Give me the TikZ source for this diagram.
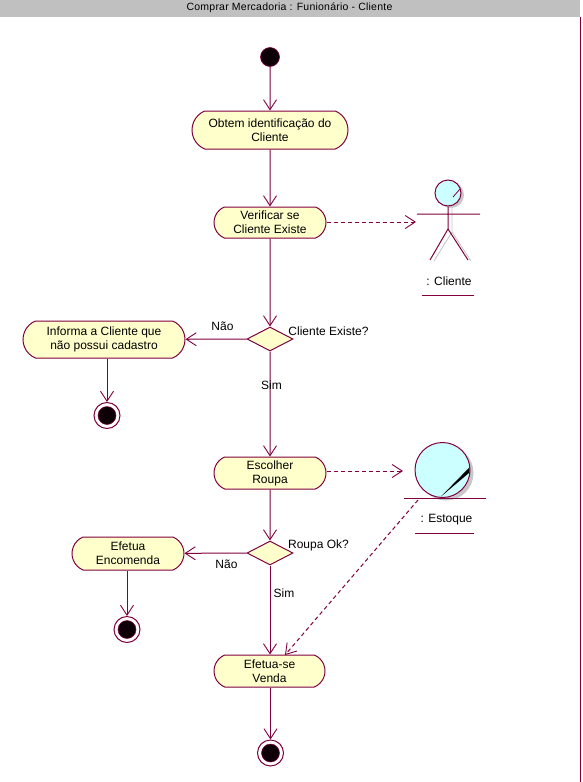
\documentclass[tikz,border=0pt]{standalone}
\usepackage{fontspec}
\setmainfont{Liberation Sans}
\newfontfamily\titlefont[LetterSpace=2.2]{Liberation Sans}
\usetikzlibrary{shapes.misc,shapes.geometric,arrows.meta,calc}
\definecolor{ink}{HTML}{800040}
\definecolor{actfill}{HTML}{FFFFCC}
\definecolor{cyanfill}{HTML}{CCFFFF}
\definecolor{bar}{HTML}{C0C0C0}
\definecolor{shadow}{HTML}{C8C8C8}
\tikzset{
  x=1pt,y=-1pt,
  every node/.style={font=\fontsize{12}{14.2}\selectfont,text=black},
  line/.style={draw=ink,line width=1pt},
  flow/.style={line,-{Straight Barb[length=10pt,width=13pt,line width=0.9pt]}},
  dep/.style={flow,dash pattern=on 4pt off 3pt},
  activity/.style={rounded rectangle,rounded rectangle arc length=135,draw=ink,line width=1pt,fill=actfill,align=center,inner sep=0pt},
  decision/.style={diamond,draw=ink,line width=1pt,fill=actfill,inner sep=0pt,minimum width=46pt,minimum height=24pt,aspect=1.9},
  startdot/.style={circle,draw=ink,fill=black!90!ink,inner sep=0pt,minimum size=19pt,line width=0.6pt},
  enddot/.style={circle,draw=ink,fill=white,inner sep=0pt,minimum size=26pt,line width=1pt},
  lbl/.style={inner sep=0pt},
}
\newcommand{\bullseye}[1]{\fill[black!90!ink,draw=ink,line width=0.5pt] (#1) circle (9pt);}
\begin{document}
\begin{tikzpicture}
\useasboundingbox (0,0) rectangle (583,782);
\fill[white] (0,0) rectangle (583,782);
\fill[bar] (0,0) rectangle (580,16.5);
\node[lbl,font=\fontsize{10.5}{12}\selectfont\titlefont] (title) at (289.5,8) {Comprar Mercadoria : Funionário - Cliente};
\draw[ink,line width=1.4pt] (580.5,17) coordinate (frameA) -- (580.5,782) coordinate (frameB);

% nodes
\node[startdot] (start) at (270,57) {};
\node[activity,minimum width=156pt,minimum height=38pt] (obtem) at (270,130) {Obtem identificação do\\Cliente};
\node[activity,minimum width=112pt,minimum height=31pt] (verificar) at (270,222.5) {Verificar se\\Cliente Existe};
\node[decision] (d1) at (270,339) {};
\node[activity,minimum width=162pt,minimum height=37pt] (informa) at (104,339.5) {Informa a Cliente que\\não possui cadastro};
\node[enddot] (end1) at (107,415.5) {};
\bullseye{end1}
\node[activity,minimum width=112pt,minimum height=32pt] (escolher) at (270,473) {Escolher\\Roupa};
\node[decision] (d2) at (270,553) {};
\node[activity,minimum width=112pt,minimum height=33pt] (encomenda) at (128,553.5) {Efetua\\Encomenda};
\node[enddot] (end2) at (127,629.5) {};
\bullseye{end2}
\node[activity,minimum width=111pt,minimum height=32pt] (venda) at (269.5,671) {Efetua-se\\Venda};
\node[enddot] (end3) at (270.5,753) {};
\bullseye{end3}

% actor
\fill[shadow] (451,195) circle (13pt);
\draw[shadow,line width=0.9pt] (452,206) -- (452,232) (452,232) -- (434,261) (452,232) -- (471,261);
\node[circle,draw=ink,fill=cyanfill,inner sep=0pt,minimum size=26pt,line width=1pt] (head) at (448,193) {};
\draw[ink,line width=0.8pt] (453,197) -- (460,189);
\coordinate (armL) at (417,214);
\coordinate (armR) at (480,214);
\coordinate (hip) at (448,229);
\coordinate (legL) at (430,260);
\coordinate (legR) at (468,260);
\draw[line] (head.south) -- (hip) -- (legL) (hip) -- (legR) (armL) -- (armR);
\node[lbl] (cliente) at (449,281) {: Cliente};
\coordinate (cliA) at (422,295);
\coordinate (cliB) at (474,295);
\draw[line] (cliA) -- (cliB);

% entity
\fill[shadow] (446,473) circle (27.5pt);
\node[circle,draw=ink,fill=cyanfill,inner sep=0pt,minimum size=55pt,line width=1pt] (entity) at (442.5,470) {};
\fill[black] (441,496.5) -- (469.3,467.5) -- (469.3,472.7) -- cycle;
\coordinate (entA) at (404,498.5);
\coordinate (entB) at (486,498.5);
\draw[line] (entA) -- (entB);
\node[lbl] (estoque) at (446.5,520) {: Estoque};
\coordinate (estA) at (415,533);
\coordinate (estB) at (474,533);
\draw[line] (estA) -- (estB);

% connectors
\draw[flow] (start) -- (obtem);
\draw[flow] (obtem) -- (verificar);
\draw[flow] (verificar) -- (d1);
\draw[flow] (d1) -- (informa);
\draw[flow] (informa.south -| end1) -- (end1);
\draw[flow] (d1) -- (escolher);
\draw[flow] (escolher) -- (d2);
\draw[flow] (d2) -- (encomenda);
\draw[flow] (encomenda.south -| end2) -- (end2);
\draw[flow] (d2) -- (venda.north -| d2);
\draw[flow] (venda.south -| end3) -- (end3);
\coordinate (actorIn) at (416,222);
\draw[dep] (verificar.east |- actorIn) -- (actorIn);
\coordinate (entityIn) at (403,471);
\draw[dep] (escolher.east |- entityIn) -- (entityIn);
\coordinate (entityOut) at (418,500);
\coordinate (ventaIn) at (285,655);
\draw[dep] (entityOut) -- (ventaIn);

% labels
\node[lbl] (nao1) at (222.5,326) {Não};
\node[lbl] (ce) at (328.5,331) {Cliente Existe?};
\node[lbl] (sim1) at (271.5,385) {Sim};
\node[lbl] (nao2) at (226.5,564) {Não};
\node[lbl] (rok) at (318.5,545) {Roupa Ok?};
\node[lbl] (sim2) at (284,593) {Sim};
\end{tikzpicture}
\end{document}
